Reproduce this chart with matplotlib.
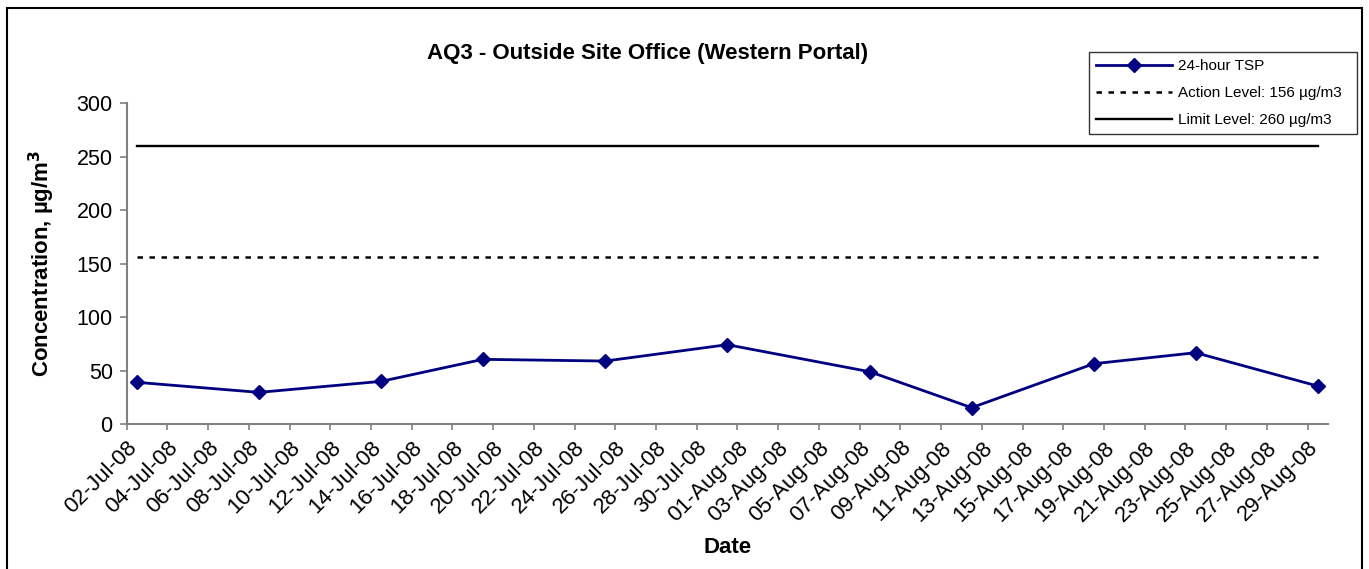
import matplotlib
matplotlib.use("Agg")
import matplotlib.pyplot as plt
import matplotlib.dates as mdates
import pandas as pd
from matplotlib.patches import Rectangle

plt.rcParams["font.family"] = ["Liberation Sans", "DejaVu Sans"]

# sampling days and 24-hour TSP readings (ug/m3)
sample_dates = ["2008-07-02", "2008-07-08", "2008-07-14", "2008-07-19", "2008-07-25",
                "2008-07-31", "2008-08-07", "2008-08-12", "2008-08-18", "2008-08-23",
                "2008-08-29"]
tsp_values = [39.0, 29.6, 39.9, 60.5, 58.9, 74.2, 48.9, 15.3, 56.4, 66.7, 35.5]
action_level = 156
limit_level = 260
axis_start, axis_end = "2008-07-02", "2008-08-30"

dates = pd.to_datetime(sample_dates)
x = dates + pd.Timedelta(hours=12)  # excel puts points mid-day
navy = "#000080"

fig = plt.figure(figsize=(13.69, 5.69), dpi=100)
ax = fig.add_axes([0.0925, 0.2548, 0.8775, 0.5637])

ax.plot(x, tsp_values, color=navy, lw=2.0, marker="D", ms=7.5, label="24-hour TSP")
ax.plot(x, [action_level] * len(x), color="black", lw=1.8, dashes=(2.2, 2.6),
        label="Action Level: 156 \u00b5g/m3")
ax.plot(x, [limit_level] * len(x), color="black", lw=1.7, label="Limit Level: 260 \u00b5g/m3")

ax.set_xlim(pd.Timestamp(axis_start), pd.Timestamp(axis_end))
ax.set_ylim(0, 300)
ax.set_yticks(range(0, 301, 50))
ticks = pd.date_range(axis_start, "2008-08-29", freq="2D")
ax.set_xticks(ticks)
ax.xaxis.set_major_formatter(mdates.DateFormatter("%d-%b-%y"))
plt.setp(ax.get_xticklabels(), rotation=45, ha="right", rotation_mode="anchor", fontsize=16)
plt.setp(ax.get_yticklabels(), fontsize=15.5)

for side in ("top", "right"):
    ax.spines[side].set_visible(False)
for side in ("left", "bottom"):
    ax.spines[side].set_color("#808080")
    ax.spines[side].set_linewidth(1.5)
ax.tick_params(axis="y", length=5, width=1.2, color="#808080", pad=5)
ax.tick_params(axis="x", length=4.5, width=1.2, color="#808080", pad=5)

ax.set_ylabel("Concentration, \u00b5g/m$^\\mathbf{3}$", fontsize=16, fontweight="bold", labelpad=14)
ax.set_xlabel("Date", fontsize=16, fontweight="bold", labelpad=8)

fig.text(648 / 1369, 1 - 53 / 569, "AQ3 - Outside Site Office (Western Portal)",
         ha="center", va="center", fontsize=16, fontweight="bold")

leg = fig.legend(loc="upper left",
                 bbox_to_anchor=(1089 / 1369, 1 - 132 / 569, 268 / 1369, 80 / 569),
                 mode="expand", fontsize=11, frameon=True, fancybox=False, handlelength=5,
                 handletextpad=0.35, labelspacing=0.85, borderpad=0.45, borderaxespad=0)
leg.get_frame().set_edgecolor("black")
leg.get_frame().set_linewidth(1.0)

fig.patches.append(Rectangle((7 / 1369, -0.05), (1362 - 7) / 1369, 1 - 8 / 569 + 0.05,
                             transform=fig.transFigure, fill=False, edgecolor="black", lw=1.5))

fig.savefig("out.png", dpi=100)
